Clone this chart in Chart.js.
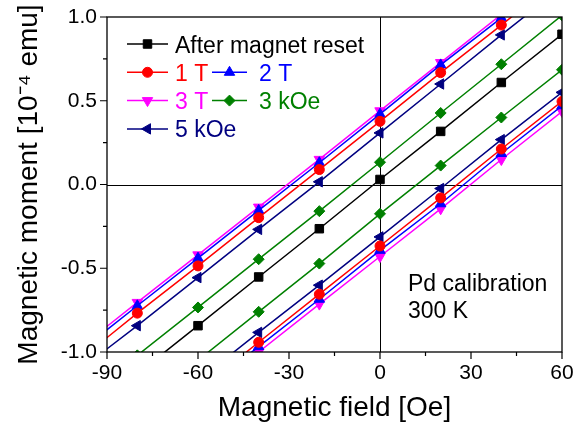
<!DOCTYPE html>
<html>
<head>
<meta charset="utf-8">
<script src="https://cdn.jsdelivr.net/npm/chart.js@4/dist/chart.umd.min.js"></script>
<style>
  html, body { margin: 0; padding: 0; background: #fff; }
  #wrap { width: 574px; height: 430px; }
</style>
</head>
<body>
<div id="wrap"><canvas id="loopChart" width="574" height="430"></canvas></div>
<script>
// field values where the magnetometer points were taken (Oe)
const fieldX = [-100, -80, -60, -40, -20, 0, 20, 40, 60];

// moments in 1e-4 emu, upper and lower branches (null = not on the branch)
const afterReset = [null, -1.13, -0.843, -0.552, -0.264, 0.03, 0.317, 0.609, 0.897];
const t1Up    = [-1.06, -0.768, -0.486, -0.198, 0.089, 0.377, 0.668, 0.952, 1.24];
const t1Down  = [null, null, -1.23, -0.942, -0.655, -0.367, -0.08, 0.212, 0.496];
const t2Up    = [-1.01, -0.724, -0.44, -0.155, 0.13, 0.42, 0.714, 0.995, 1.28];
const t2Down  = [null, null, -1.25, -0.968, -0.685, -0.393, -0.115, 0.185, 0.47];
const t3Up    = [-0.99, -0.704, -0.42, -0.135, 0.15, 0.44, 0.728, 1.015, 1.3];
const t3Down  = [null, null, -1.29, -1.0, -0.714, -0.43, -0.145, 0.149, 0.436];
const k3Up    = [null, -1.02, -0.734, -0.446, -0.159, 0.133, 0.427, 0.718, 1.01];
const k3Down  = [null, null, -1.05, -0.76, -0.472, -0.175, 0.113, 0.4, 0.685];
const k5Up    = [-1.12, -0.843, -0.556, -0.268, 0.016, 0.308, 0.6, 0.893, 1.18];
const k5Down  = [null, null, -1.17, -0.883, -0.601, -0.313, -0.024, 0.268, 0.55];

const xTicks = [-90, -60, -30, 0, 30, 60];
const yTicks = [-1.0, -0.5, 0.0, 0.5, 1.0];

const seriesNames = ['After magnet reset', '1 T', '2 T', '3 T', '3 kOe', '5 kOe'];
const seriesColors = ['#000000', '#ff0000', '#0000ff', '#ff00ff', '#008000', '#000080'];
const pointStyles = ['rect', 'circle', 'triangle', 'triangle', 'rectRot', 'triangle'];
const pointRotations = [0, 0, 0, 180, 0, 270];
const pointSizes = [6, 5, 6, 6, 5.5, 6];
const branches = [[afterReset], [t1Up, t1Down], [t2Up, t2Down], [t3Up, t3Down], [k3Up, k3Down], [k5Up, k5Down]];

const FONT = '"Liberation Sans", Arial, Helvetica, sans-serif';

function toPoints(arr) {
    const pts = [];
    fieldX.forEach((x, i) => {
        if (arr[i] !== null) pts.push({ x: x, y: arr[i] });
    });
    return pts;
}

const datasets = [];
branches.forEach((list, s) => {
    list.forEach((arr, b) => {
        datasets.push({
            label: seriesNames[s] + (b ? ' (down)' : ''),
            data: toPoints(arr),
            borderColor: seriesColors[s],
            backgroundColor: seriesColors[s],
            borderWidth: 1.5,
            pointStyle: pointStyles[s],
            rotation: pointRotations[s],
            pointRadius: pointSizes[s],
            pointBorderWidth: 1,
            clip: 0,
            tension: 0
        });
    });
});

// zero lines, frame, ticks, legend and note
const decor = {
    id: 'decor',
    beforeDatasetsDraw(chart) {
        const { ctx, chartArea: a, scales: { x, y } } = chart;
        ctx.save();
        ctx.strokeStyle = '#000';
        ctx.lineWidth = 1;
        const x0 = Math.round(x.getPixelForValue(0)) + 0.5;
        const y0 = Math.round(y.getPixelForValue(0)) + 0.5;
        ctx.beginPath();
        ctx.moveTo(x0, a.top); ctx.lineTo(x0, a.bottom);
        ctx.moveTo(a.left, y0); ctx.lineTo(a.right, y0);
        ctx.stroke();
        ctx.restore();
    },
    afterDatasetsDraw(chart) {
        const { ctx, chartArea: a, scales: { x, y } } = chart;
        ctx.save();
        ctx.strokeStyle = '#000';
        ctx.lineWidth = 1.3;
        ctx.strokeRect(a.left, a.top, a.right - a.left, a.bottom - a.top);

        ctx.lineWidth = 1.2;
        ctx.beginPath();
        for (let v = -90; v <= 60; v += 15) {
            const px = x.getPixelForValue(v);
            const len = (v % 30 === 0) ? 7 : 4;
            ctx.moveTo(px, a.bottom); ctx.lineTo(px, a.bottom + len);
        }
        for (let v = -1; v <= 1.001; v += 0.25) {
            const py = y.getPixelForValue(v);
            const major = Math.abs(v * 2 - Math.round(v * 2)) < 1e-6;
            ctx.moveTo(a.left, py); ctx.lineTo(a.left - (major ? 7 : 4), py);
        }
        ctx.stroke();

        // legend
        const rows = [[0], [1, 2], [3, 4], [5]];
        const cols = [{ l: 20, r: 61, t: 68 }, { l: 105, r: 140, t: 152 }];
        ctx.font = '23px ' + FONT;
        ctx.textBaseline = 'alphabetic';
        ctx.textAlign = 'left';
        rows.forEach((row, r) => {
            const cy = a.top + 27 + r * 28.3;
            row.forEach((s, c) => {
                const col = cols[c];
                ctx.strokeStyle = seriesColors[s];
                ctx.fillStyle = seriesColors[s];
                ctx.lineWidth = 1.5;
                ctx.beginPath();
                ctx.moveTo(a.left + col.l, cy); ctx.lineTo(a.left + col.r, cy);
                ctx.stroke();
                ctx.lineWidth = 1;
                Chart.helpers.drawPoint(ctx, {
                    pointStyle: pointStyles[s], radius: pointSizes[s],
                    rotation: pointRotations[s], borderWidth: 1
                }, a.left + (col.l + col.r) / 2, cy);
                ctx.fillStyle = seriesColors[s];
                ctx.fillText(seriesNames[s], a.left + col.t, cy + 8.5);
            });
        });

        ctx.fillStyle = '#000';
        ctx.font = '23px ' + FONT;
        ctx.fillText('Pd calibration', a.left + 301, a.top + 274);
        ctx.fillText('300 K', a.left + 301, a.top + 301);
        ctx.restore();
    }
};

new Chart(document.getElementById('loopChart'), {
    type: 'line',
    data: { datasets: datasets },
    options: {
        responsive: false,
        animation: false,
        layout: { padding: { top: 17, right: 12, left: 0, bottom: 0 } },
        plugins: { legend: { display: false }, tooltip: { enabled: false } },
        scales: {
            x: {
                type: 'linear',
                min: -90, max: 60,
                afterBuildTicks: s => { s.ticks = xTicks.map(v => ({ value: v })); },
                afterFit: s => { s.height = 78; s.paddingLeft = 0; s.paddingRight = 0; },
                grid: { display: false, drawTicks: false },
                border: { display: false },
                ticks: { color: '#000', font: { family: FONT, size: 21 }, padding: 9, maxRotation: 0 },
                title: { display: true, text: 'Magnetic field [Oe]', color: '#000',
                         font: { family: FONT, size: 28 }, padding: { top: 0, bottom: 5 } }
            },
            y: {
                type: 'linear',
                min: -1, max: 1,
                afterBuildTicks: s => { s.ticks = yTicks.map(v => ({ value: v })); },
                afterFit: s => { s.width = 107; s.paddingTop = 0; s.paddingBottom = 0; },
                grid: { display: false, drawTicks: false },
                border: { display: false },
                ticks: { color: '#000', font: { family: FONT, size: 21 }, padding: 10,
                         callback: v => v.toFixed(1) },
                title: { display: true, text: 'Magnetic moment [10\u207B\u2074 emu]', color: '#000',
                         font: { family: FONT, size: 28 }, padding: { top: 12, bottom: 0 } }
            }
        }
    },
    plugins: [decor]
});
</script>
</body>
</html>
